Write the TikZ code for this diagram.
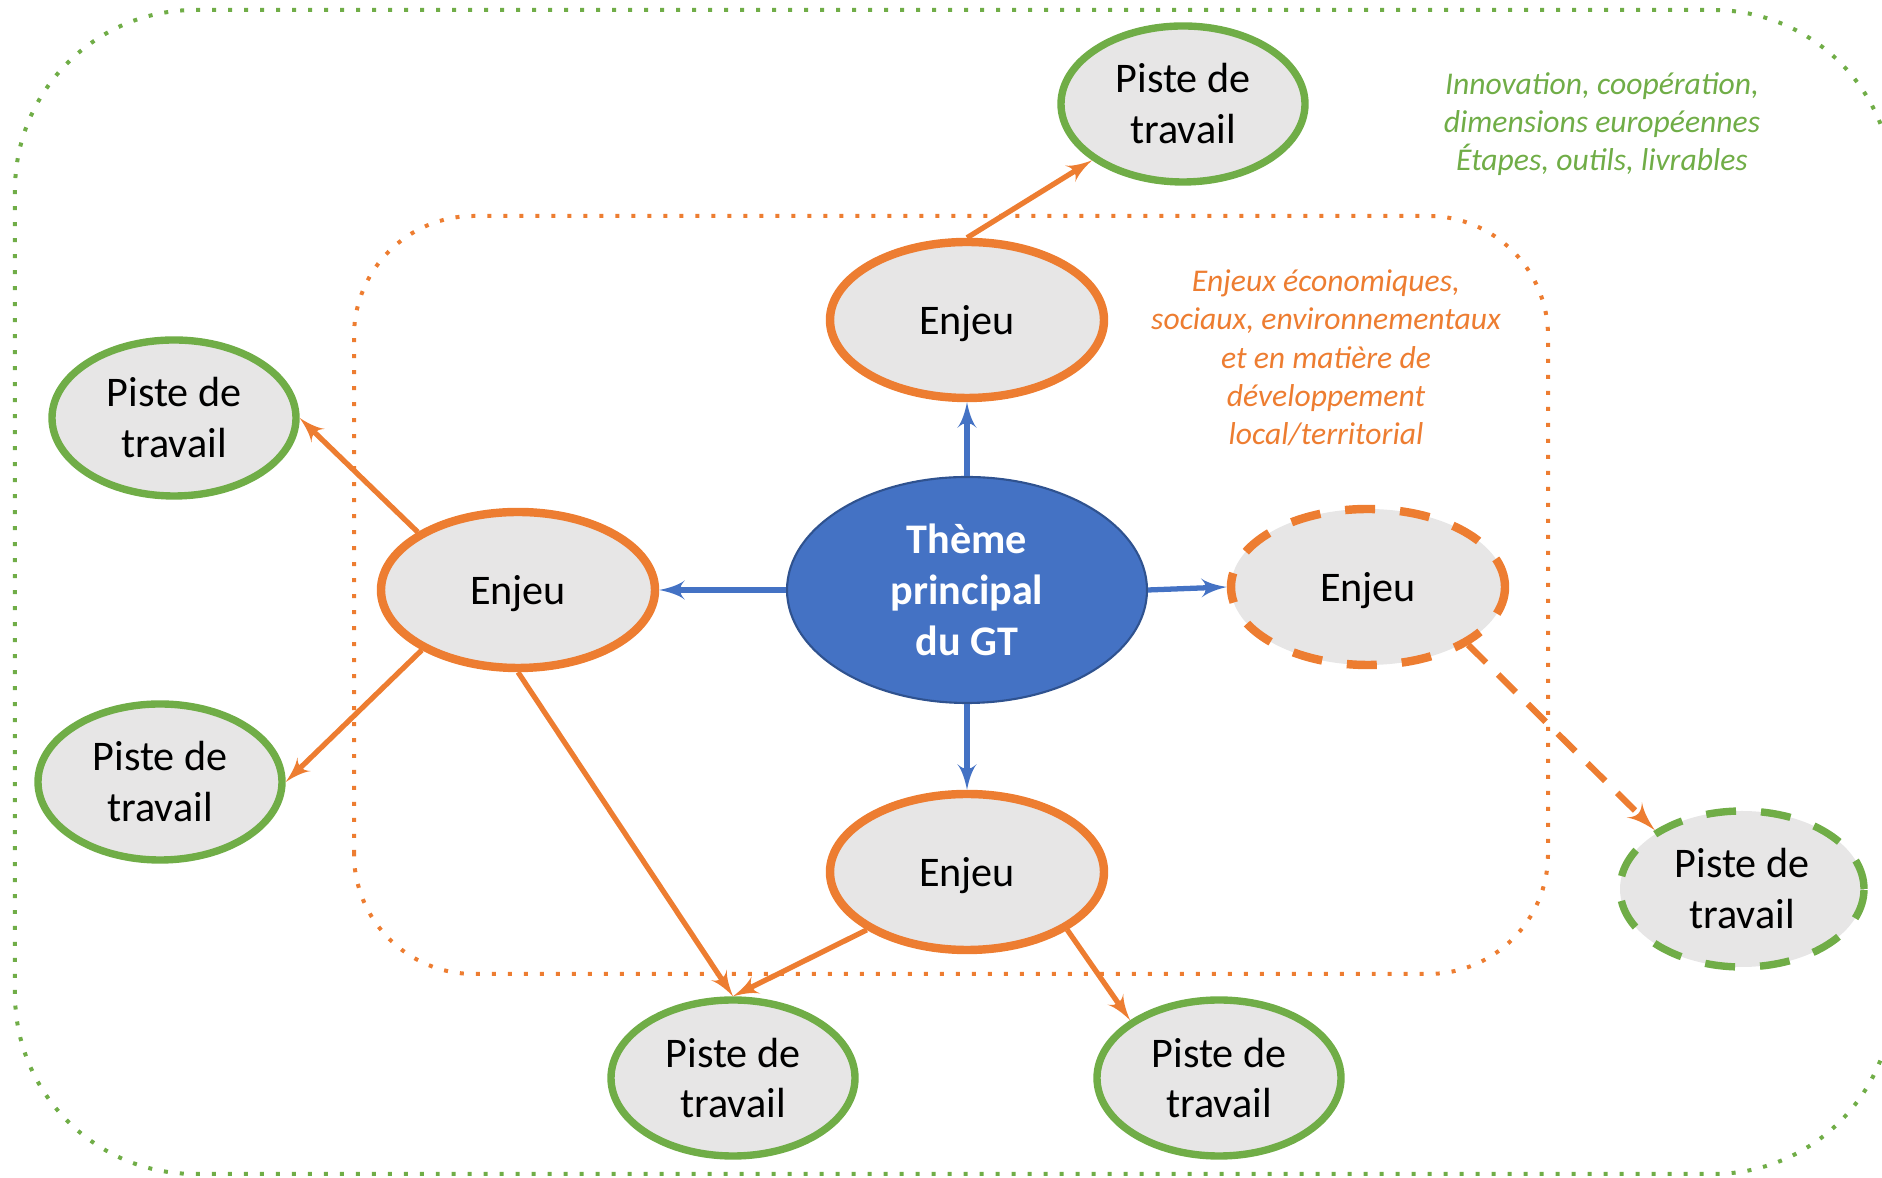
\documentclass[tikz,border=0pt]{standalone}
\usepackage{fontspec}
\setmainfont{Carlito}
\usetikzlibrary{arrows,shapes.geometric}
\definecolor{orangeGT}{HTML}{ED7D31}
\definecolor{greenGT}{HTML}{70AD47}
\definecolor{blueGT}{HTML}{4472C4}
\definecolor{borderGT}{HTML}{2F528F}
\definecolor{grayGT}{HTML}{E7E6E6}

\begin{document}
\begin{tikzpicture}

\tikzset{enjeu/.style = {shape=ellipse,draw=orangeGT,fill=grayGT,line width=2.4pt,minimum width=2.74cm,minimum height=1.56cm,inner sep=0pt,text depth=0pt,font=\fontsize{12}{14.5}\selectfont}}
\tikzset{piste/.style = {shape=ellipse,draw=greenGT,fill=grayGT,line width=2.1pt,minimum width=2.44cm,minimum height=1.56cm,inner sep=0pt,align=center,font=\fontsize{12}{14.5}\selectfont}}
\tikzset{theme/.style = {shape=ellipse,draw=borderGT,fill=blueGT,line width=0.6pt,minimum width=3.6cm,minimum height=2.26cm,inner sep=0pt,align=center,text=white,font=\fontsize{12}{14.5}\selectfont\bfseries}}
\tikzset{note/.style = {align=center,font=\fontsize{9}{10.9}\selectfont\itshape}}
\tikzset{dots/.style = {line width=0.04cm,dash pattern=on 0.04cm off 0.12cm}}
\tikzset{edge/.style = {->,> = latex',draw=orangeGT,line width=1.5pt}}
\tikzset{bedge/.style = {->,> = latex',draw=blueGT,line width=1.5pt}}

\useasboundingbox (0,0) rectangle (18.82,11.78);

% zones
\draw[greenGT,dots,rounded corners=1.8cm] (0.15,0.04) rectangle (18.93,11.68);
\draw[orangeGT,dots,rounded corners=1.2cm] (3.54,2.04) rectangle (15.48,9.62);

% notes
\node[note,text=greenGT] (nvert) at (16.02,10.54) {Innovation, coopération,\\dimensions européennes\\Étapes, outils, livrables};
\node[note,text=orangeGT] (norange) at (13.26,8.20) {Enjeux économiques,\\sociaux, environnementaux\\et en matière de\\développement\\local/territorial};

% vertices
\node[theme] (th) at (9.67,5.88) {Thème\\principal\\du GT};
\node[enjeu] (et) at (9.67,8.58) {Enjeu};
\node[enjeu] (el) at (5.18,5.88) {Enjeu};
\node[enjeu,dash pattern=on 0.3cm off 0.25cm] (er) at (13.68,5.91) {Enjeu};
\node[enjeu] (eb) at (9.67,3.06) {Enjeu};

\node[piste] (pt) at (11.83,10.74) {Piste de\\travail};
\node[piste] (pl1) at (1.74,7.60) {Piste de\\travail};
\node[piste] (pl2) at (1.60,3.96) {Piste de\\travail};
\node[piste] (pb1) at (7.33,1.00) {Piste de\\travail};
\node[piste] (pb2) at (12.19,1.00) {Piste de\\travail};
\node[piste,dash pattern=on 0.3cm off 0.25cm] (pr) at (17.42,2.89) {Piste de\\travail};

% edges
\draw[bedge] (th) to (et);
\draw[bedge] (th) to (el);
\draw[bedge] (th.east) to (er.west);
\draw[bedge] (th) to (eb);

\draw[edge] (et.north) to (pt);
\draw[edge] (el.150) to (pl1.east);
\draw[edge] (el.212) to (pl2.east);
\draw[edge] (el.south) to (pb1.north);
\draw[edge] (eb.210) to (pb1.north);
\draw[edge] (eb.330) to (pb2.147);
\draw[edge,line width=1.8pt,dash pattern=on 0.25cm off 0.17cm] (er.330) to (pr.146);

\end{tikzpicture}
\end{document}
